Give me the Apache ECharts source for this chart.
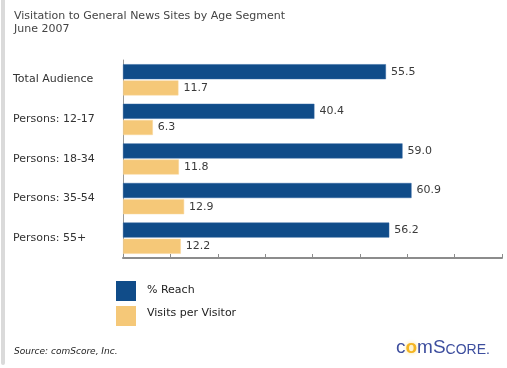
<!DOCTYPE html>
<html><head><meta charset="utf-8">
<script src="https://cdn.jsdelivr.net/npm/echarts@6/dist/echarts.min.js"></script>
<style>html,body{margin:0;padding:0;background:#fff}#c{width:507px;height:368px}</style>
</head><body><div id="c"></div>
<script>
const categories = ['Total Audience','Persons: 12-17','Persons: 18-34','Persons: 35-54','Persons: 55+'];
const reach = [55.5, 40.4, 59.0, 60.9, 56.2];
const visits = [11.7, 6.3, 11.8, 12.9, 12.2];
const seriesNames = ['% Reach','Visits per Visitor'];
const titleLines = ['Visitation to General News Sites by Age Segment','June 2007'];
const sourceText = 'Source: comScore, Inc.';

const FONT = 'DejaVu Sans, Verdana, sans-serif';
const chart = echarts.init(document.getElementById('c'), null, {renderer:'canvas'});
const lbl = {show:true, position:'right', distance:5, color:'#3a3a3a', fontSize:11, fontFamily:FONT,
  formatter: p => p.value.toFixed(1)};
const LOGO = '"Liberation Sans", sans-serif';
chart.setOption({
  animation:false,
  grid:{left:123, right:5, top:60, height:198},
  xAxis:{type:'value', min:0, max:80, interval:10,
    axisLine:{show:true, lineStyle:{color:'#8c8c8c', width:2}},
    axisTick:{show:true, inside:true, length:4, lineStyle:{color:'#8c8c8c', width:1}},
    axisLabel:{show:false}, splitLine:{show:false}},
  yAxis:{type:'category', data:categories, inverse:true,
    axisLine:{show:true, lineStyle:{color:'#999', width:1}},
    axisTick:{show:false},
    axisLabel:{show:false}},
  series:[
    {name:seriesNames[0], type:'bar', data:reach, barWidth:15, barGap:'8%',
      itemStyle:{color:'#104C89', borderColor:'#2E65A0', borderWidth:0.5}, label:lbl},
    {name:seriesNames[1], type:'bar', data:visits, barWidth:15,
      itemStyle:{color:'#F5C878', borderColor:'#F8D69A', borderWidth:0.5}, label:lbl}
  ],
  graphic:[
    {type:'rect', shape:{x:1, y:-5, width:4, height:370, r:2}, style:{fill:'#DADADA'}},
    {type:'text', left:14, top:10, style:{text:titleLines.join('\n'), fill:'#444', font:'11px '+FONT, lineHeight:13}},
    ...categories.map((c,i)=>({type:'text', left:13, top:74+i*39.6, style:{text:c, fill:'#333', font:'11px '+FONT}})),
    {type:'rect', shape:{x:116, y:281, width:20, height:20}, style:{fill:'#104C89'}},
    {type:'rect', shape:{x:116, y:306, width:20, height:20}, style:{fill:'#F5C878'}},
    {type:'text', left:147, top:285, style:{text:seriesNames[0], fill:'#222', font:'11px '+FONT}},
    {type:'text', left:147, top:308, style:{text:seriesNames[1], fill:'#222', font:'11px '+FONT}},
    {type:'text', left:14, top:347, style:{text:sourceText, fill:'#222', font:'italic 9px '+FONT}},
    {type:'text', x:396, y:357, style:{
      text:'{b|c}{o|o}{b|mS}{s|CORE.}', verticalAlign:'bottom',
      rich:{
        b:{fill:'#3D4E9E', font:'19px '+LOGO, verticalAlign:'bottom'},
        o:{fill:'#F4B522', font:'bold 19px '+LOGO, verticalAlign:'bottom', textShadowColor:'#FBE08A', textShadowBlur:4},
        s:{fill:'#3D4E9E', font:'14px '+LOGO, verticalAlign:'bottom'}
      }}}
  ]
});
</script></body></html>
